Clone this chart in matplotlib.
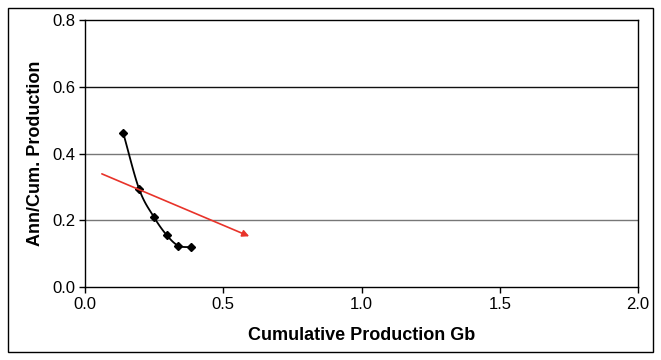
import numpy as np
import matplotlib
matplotlib.use("Agg")
import matplotlib.pyplot as plt
from matplotlib.patches import Rectangle

plt.rcParams['font.family'] = ['Liberation Sans', 'DejaVu Sans']

cum_prod = [0.138, 0.196, 0.249, 0.295, 0.337, 0.384]
ann_cum = [0.462, 0.293, 0.210, 0.156, 0.124, 0.119]
arrow_start = (0.061, 0.339)
arrow_end = (0.594, 0.152)

x_ticks = [0.0, 0.5, 1.0, 1.5, 2.0]
y_ticks = [0.0, 0.2, 0.4, 0.6, 0.8]


def catmull_rom(xs, ys, n=20):
    xs = np.asarray(xs, float); ys = np.asarray(ys, float)
    px = np.concatenate([[2*xs[0]-xs[1]], xs, [2*xs[-1]-xs[-2]]])
    py = np.concatenate([[2*ys[0]-ys[1]], ys, [2*ys[-1]-ys[-2]]])
    ox, oy = [], []
    for i in range(1, len(px)-2):
        t = np.linspace(0, 1, n, endpoint=False)
        for p, o in ((px, ox), (py, oy)):
            p0, p1, p2, p3 = p[i-1], p[i], p[i+1], p[i+2]
            o.extend(0.5*((2*p1) + (-p0+p2)*t + (2*p0-5*p1+4*p2-p3)*t**2 + (-p0+3*p1-3*p2+p3)*t**3))
    ox.append(xs[-1]); oy.append(ys[-1])
    return np.array(ox), np.array(oy)


fig = plt.figure(figsize=(6.61, 3.6), dpi=100)
ax = fig.add_axes([85/661, 1-287/360, (638-85)/661, (287-20)/360])

ax.set_xlim(0, 2.0)
ax.set_ylim(0, 0.8)
ax.set_xticks(x_ticks)
ax.set_yticks(y_ticks)
ax.set_xticklabels([f"{v:.1f}" for v in x_ticks])
ax.set_yticklabels([f"{v:.1f}" for v in y_ticks])
ax.tick_params(direction='out', length=4, width=1, labelsize=12, colors='black', pad=3)

for y, c in [(0.2, '#777777'), (0.4, '#777777'), (0.6, '#111111')]:
    ax.axhline(y, color=c, lw=1, zorder=1)

for s in ax.spines.values():
    s.set_linewidth(1)
    s.set_color('black')

sx, sy = catmull_rom(cum_prod, ann_cum)
ax.plot(sx, sy, color='black', lw=1.3, zorder=3)
ax.plot(cum_prod, ann_cum, linestyle='none', marker='D', ms=4.5, color='black', zorder=4)

ax.annotate('', xy=arrow_end, xytext=arrow_start,
            arrowprops=dict(arrowstyle='-|>', color='#e8332a', lw=1.2,
                            mutation_scale=10, shrinkA=0, shrinkB=0), zorder=5)

ax.set_xlabel('Cumulative Production Gb', fontsize=13, fontweight='bold', labelpad=11)
ax.set_ylabel('Ann/Cum. Production', fontsize=13, fontweight='bold', labelpad=6)

fig.patches.append(Rectangle((8/661, 8/360), (653-8)/661, (352-8)/360, transform=fig.transFigure,
                             fill=False, edgecolor='black', lw=1))

fig.savefig('out.png', dpi=100, facecolor='white')
